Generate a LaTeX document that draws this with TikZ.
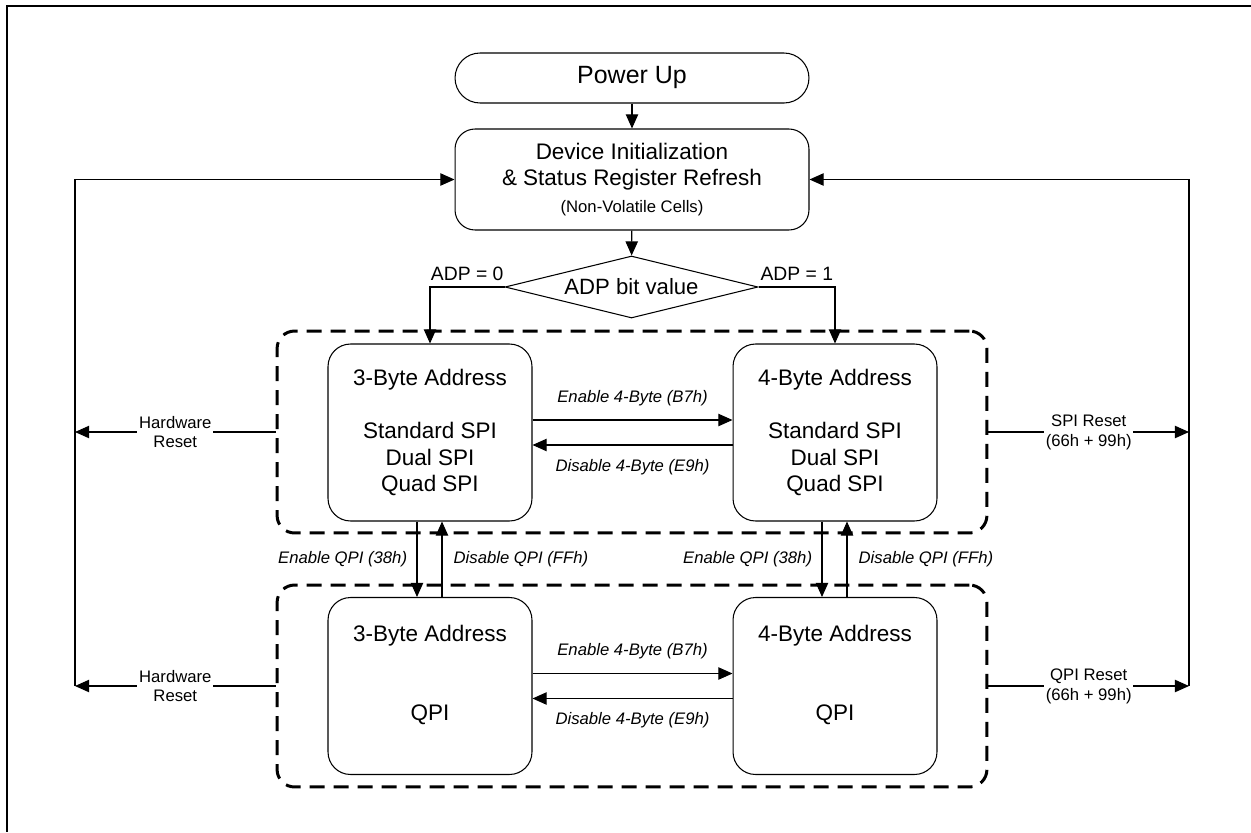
\documentclass[tikz,border=0pt]{standalone}
\usepackage{fontspec}
\setmainfont{Liberation Sans}
\usetikzlibrary{arrows.meta,shapes.geometric}
\begin{document}
\begin{tikzpicture}[x=0.02cm,y=-0.02cm,>={Triangle[length=8pt,width=7pt]},
    box/.style={draw,line width=0.6pt,rounded corners=0.45cm,minimum width=4.08cm,minimum height=3.54cm,align=center,font=\fontsize{12.8}{15.1}\selectfont},
    grp/.style={draw,line width=1.7pt,dash pattern=on 0.3cm off 0.18cm,rounded corners=0.35cm,minimum width=14.2cm,minimum height=4.04cm},
    arr/.style={->,line width=0.6pt},
    lbl/.style={fill=white,inner sep=1pt,align=center,font=\fontsize{9.5}{11.3}\selectfont},
    cmd/.style={font=\fontsize{9.5}{11.3}\selectfont\itshape},
    flag/.style={font=\fontsize{11}{13}\selectfont}]
    \useasboundingbox(0,0)rectangle(1251,832);
    \draw[line width=0.04cm](1251,6)--(7,6)--(7,832);
    \node[grp](spiGrp)at(632,432){};
    \node[grp](qpiGrp)at(632,686){};
    \node[box,minimum width=7.08cm,minimum height=1cm,rounded corners=0.5cm,font=\fontsize{14.2}{17}\selectfont](pwr)at(632,78){Power Up};
    \node[box,minimum width=7.08cm,minimum height=2.02cm,rounded corners=0.4cm](init)at(632,179.5){Device Initialization\\\& Status Register Refresh\\{\fontsize{9.5}{11}\selectfont(Non-Volatile Cells)}};
    \node[diamond,draw,line width=0.6pt,aspect=4,minimum width=5.06cm,minimum height=1.24cm,inner sep=0pt,font=\fontsize{12.6}{15}\selectfont](adp)at(631.5,287){ADP bit value};
    \node[box](spiA)at(430,432.5){3-Byte Address\\~\\Standard SPI\\Dual SPI\\Quad SPI};
    \node[box](spiB)at(835,432.5){4-Byte Address\\~\\Standard SPI\\Dual SPI\\Quad SPI};
    \node[box](qpiA)at(430,686){3-Byte Address\\~\\~\\QPI\\~};
    \node[box](qpiB)at(835,686){4-Byte Address\\~\\~\\QPI\\~};
    \draw[arr](pwr)--(init);
    \draw[arr](init)--(adp);
    \draw[arr](adp.west)-|(spiA.north)node[pos=0.25,above,flag]{ADP = 0};
    \draw[arr](adp.east)-|(spiB.north)node[pos=0.25,above,flag]{ADP = 1};
    \draw[arr]([yshift=0.25cm]spiA.east)--([yshift=0.25cm]spiB.west)node[midway,above=4.5pt,cmd]{Enable 4-Byte (B7h)};
    \draw[arr]([yshift=-0.25cm]spiB.west)--([yshift=-0.25cm]spiA.east)node[midway,below=4.5pt,cmd]{Disable 4-Byte (E9h)};
    \draw[arr]([yshift=0.25cm]qpiA.east)--([yshift=0.25cm]qpiB.west)node[midway,above=4.5pt,cmd]{Enable 4-Byte (B7h)};
    \draw[arr]([yshift=-0.25cm]qpiB.west)--([yshift=-0.25cm]qpiA.east)node[midway,below=4.5pt,cmd]{Disable 4-Byte (E9h)};
    \draw[arr]([xshift=-0.26cm]spiA.south)--([xshift=-0.26cm]qpiA.north)node[midway,left=2pt,cmd]{Enable QPI (38h)};
    \draw[arr]([xshift=0.24cm]qpiA.north)--([xshift=0.24cm]spiA.south)node[midway,right=3pt,cmd]{Disable QPI (FFh)};
    \draw[arr]([xshift=-0.26cm]spiB.south)--([xshift=-0.26cm]qpiB.north)node[midway,left=2pt,cmd]{Enable QPI (38h)};
    \draw[arr]([xshift=0.24cm]qpiB.north)--([xshift=0.24cm]spiB.south)node[midway,right=3pt,cmd]{Disable QPI (FFh)};
    \coordinate(hwL)at(75,686);
    \coordinate(rstR)at(1189,686);
    \draw[arr](spiGrp.west)--(spiGrp.west-|hwL)node[midway,lbl]{Hardware\\Reset};
    \draw[arr](qpiGrp.west)--(hwL)node[midway,lbl]{Hardware\\Reset};
    \draw[arr](hwL)|-(init.west);
    \draw[arr](spiGrp.east)--(spiGrp.east-|rstR)node[midway,lbl]{SPI Reset\\(66h + 99h)};
    \draw[arr](qpiGrp.east)--(rstR)node[midway,lbl]{QPI Reset\\(66h + 99h)};
    \draw[arr](rstR)|-(init.east);
\end{tikzpicture}
\end{document}
